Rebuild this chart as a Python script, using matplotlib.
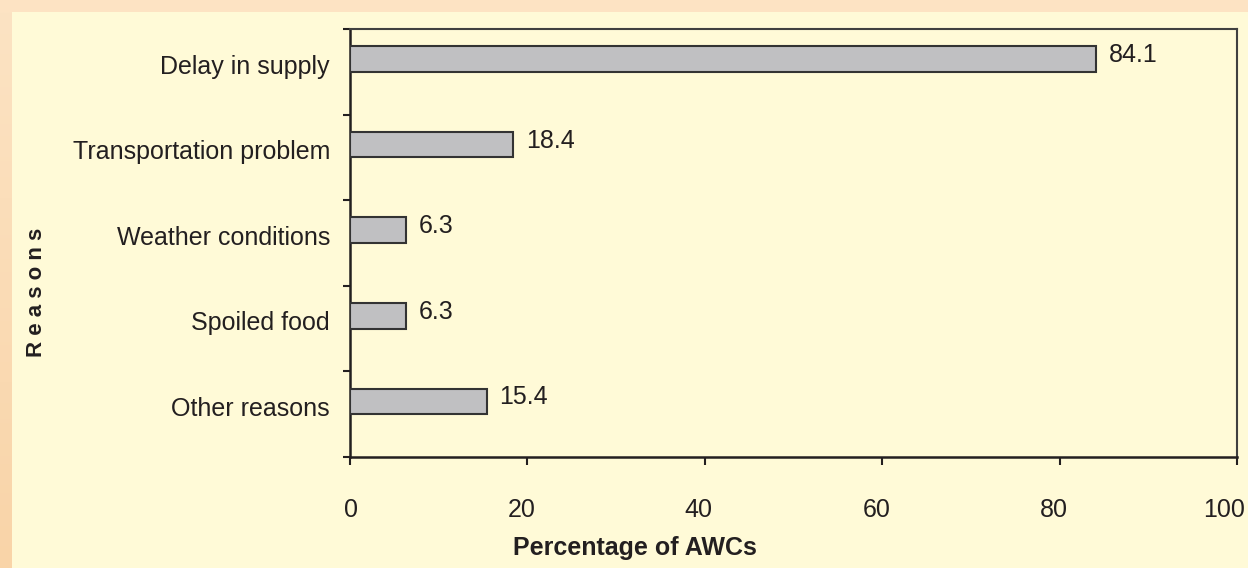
import numpy as np
import matplotlib
matplotlib.use("Agg")
import matplotlib.pyplot as plt
from matplotlib.patches import Rectangle
from matplotlib.transforms import ScaledTranslation

# Reasons for interruption of food supply at AWCs
reasons = ["Delay in supply", "Transportation problem", "Weather conditions",
           "Spoiled food", "Other reasons"]
percent = [84.1, 18.4, 6.3, 6.3, 15.4]
x_ticks = [0, 20, 40, 60, 80, 100]

W, H = 1248, 568
FS = 18
plt.rcParams["font.family"] = ["Liberation Sans", "DejaVu Sans"]

ink = "#231F20"
fig = plt.figure(figsize=(W / 100, H / 100), dpi=100)
fig.patch.set_facecolor("#FFFAD7")

# Peach frame along the top and left edges
top_band = Rectangle((0, 1 - 12 / H), 1, 12 / H, transform=fig.transFigure,
                     facecolor="#FDE3C3", edgecolor="none", zorder=0)
fig.patches.append(top_band)
grad_ax = fig.add_axes([0, 0, 12 / W, 1 - 12 / H], zorder=0)
c_top = np.array([252, 227, 195]) / 255
c_bot = np.array([249, 212, 168]) / 255
t = np.linspace(0, 1, 256)[:, None, None]
grad = c_top * (1 - t) + c_bot * t
grad_ax.imshow(np.repeat(grad, 2, axis=1), aspect="auto")
grad_ax.set_axis_off()

ax = fig.add_axes([350 / W, 1 - 457 / H, (1237 - 350) / W, (457 - 29) / H])
ax.set_facecolor("#FFFAD7")

y = np.arange(len(reasons))
bar_h = 0.30
ax.barh(y - bar_h / 2, percent, height=bar_h, color="#C0C0C2",
        edgecolor="#333333", linewidth=1.5, zorder=3)

for yi, v in zip(y, percent):
    ax.annotate(f"{v:.1f}", xy=(v, yi - bar_h / 2 + 0.035), xytext=(9, 0),
                textcoords="offset points", va="baseline", ha="left",
                fontsize=FS, color=ink)

ax.set_xlim(0, 100)
ax.set_ylim(len(reasons) - 0.5, -0.5)

ax.set_xticks(x_ticks)
ax.set_xticklabels([str(v) for v in x_ticks])
ax.tick_params(axis="x", direction="out", length=5.8, width=1.5, color=ink,
               pad=23.5, labelsize=FS, labelcolor=ink)
# numbers sit just right of their tick, right-aligned
shift = ScaledTranslation(8 / 100, 0, fig.dpi_scale_trans)
for lab in ax.get_xticklabels():
    lab.set_horizontalalignment("right")
    lab.set_transform(lab.get_transform() + shift)

# category labels at the centres, tick marks at the boundaries
ax.set_yticks(y + 0.02)
ax.set_yticklabels(reasons)
for lab in ax.get_yticklabels():
    lab.set_verticalalignment("baseline")
ax.tick_params(axis="y", which="major", length=0, pad=14.4, labelsize=FS,
               labelcolor=ink)
ax.set_yticks(np.arange(-0.5, len(reasons)), minor=True)
ax.tick_params(axis="y", which="minor", direction="out", length=5, width=1.5,
               color=ink)

for side in ("left", "bottom"):
    ax.spines[side].set_color(ink)
    ax.spines[side].set_linewidth(1.8)
for side in ("right", "top"):
    ax.spines[side].set_color("#404040")
    ax.spines[side].set_linewidth(1.5)

fig.text(635 / W, 1 - 555 / H, "Percentage of AWCs", ha="center",
         va="baseline", fontsize=FS, fontweight="bold", color=ink)
fig.text(37 / W, 1 - 292 / H, "R e a s o n s", ha="center", va="center",
         rotation=90, fontsize=16, fontweight="bold", color=ink)

fig.savefig("out.png", dpi=100, facecolor=fig.get_facecolor())
